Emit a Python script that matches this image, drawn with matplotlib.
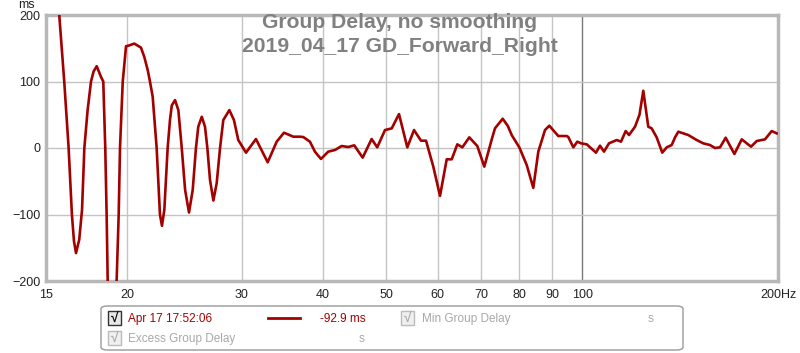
import numpy as np
import matplotlib
matplotlib.use("Agg")
import matplotlib.pyplot as plt
from matplotlib.patches import FancyBboxPatch, Rectangle

# Group delay (frequency in Hz, delay in ms)
freq = [15.2, 15.72, 16.00, 16.25, 16.44, 16.56, 16.68, 16.87, 17.04, 17.18,
        17.38, 17.59, 17.75, 17.95, 18.22, 18.37, 18.50, 18.59, 18.66, 18.95,
        19.26, 19.40, 19.49, 19.68, 19.91, 20.10, 20.50, 20.99, 21.24, 21.50,
        21.67, 21.88, 22.19, 22.45, 22.61, 22.80, 23.07, 23.26, 23.41, 23.68,
        23.96, 24.25, 24.54, 24.88, 25.21, 25.50, 25.71, 26.03, 26.33, 26.55,
        26.80, 27.12, 27.44, 27.77, 28.09, 28.70, 29.17, 29.62, 30.44, 31.53,
        32.87, 33.93, 34.82, 35.99, 36.84, 37.28, 38.17, 38.85, 39.69, 40.72,
        41.70, 42.70, 43.71, 44.65, 46.00, 47.48, 48.43, 49.78, 50.98, 52.31,
        53.87, 55.16, 56.55, 57.56, 59.06, 60.48, 61.93, 63.04, 64.30, 65.45,
        67.08, 69.01, 70.74, 72.63, 73.47, 75.50, 76.90, 77.94, 80.07, 82.19,
        84.13, 85.64, 87.69, 89.04, 91.92, 94.69, 95.23, 96.94, 98.31, 99.62,
        101.65, 105.03, 106.53, 108.04, 109.97, 113.02, 114.75, 116.67, 118.05, 120.58,
        122.5, 124.17, 126.38, 127.91, 130.19, 132.80, 134.89, 137.31, 138.93, 140.54,
        145.60, 150.0, 153.5, 157.2, 160.0, 162.9, 166.2, 171.4, 175.9, 181.8,
        185.5, 191.0, 195.6, 199.1]
delay = [320, 200, 100, 0, -100, -140, -158, -138, -93, 0,
         57, 100, 115, 123, 107, 100, 0, -100, -200, -420,
         -200, -100, 0, 100, 153, 154, 157, 151, 137, 117,
         100, 77, 0, -100, -117, -93, 0, 42, 64, 72,
         57, 0, -63, -97, -63, 0, 32, 47, 32, 0,
         -48, -79, -53, 0, 42, 57, 42, 12, -7, 13.5,
         -21.5, 9.5, 23, 17, 17, 16.5, 9.5, -5.5, -16.5, -5.5,
         -3, 3, 1.5, 4, -14.5, 13.5, 1, 27, 29.5, 51,
         1, 27, 11, 11, -28, -72, -17, -17, 5.5, 1,
         16, 3, -28, 13, 29.6, 44, 33, 19.5, 1, -25.5,
         -60, -5.5, 27, 33.5, 18, 18, 16.5, 1, 9.5, 7,
         5.5, -7, 3.5, -5.5, 7, 12, 9.5, 25.5, 19.5, 32,
         50, 86, 32, 29.5, 16, -7, 1, 4.5, 16, 24.5,
         19.5, 12, 7, 4.5, 0, 1, 15.5, -9, 13, 2,
         10.5, 13, 25.5, 22]

x_ticks = [15, 20, 30, 40, 50, 60, 70, 80, 90, 100, 200]
x_tick_labels = ["15", "20", "30", "40", "50", "60", "70", "80", "90", "100", "200Hz"]
y_ticks = [-200, -100, 0, 100, 200]

title_lines = ["Group Delay, no smoothing", "2019_04_17 GD_Forward_Right"]

plt.rcParams['font.family'] = ['Liberation Sans', 'DejaVu Sans']

fig = plt.figure(figsize=(8.0, 3.53), dpi=100)
ax = fig.add_axes([46 / 800, 1 - 281 / 353, (778 - 46) / 800, (281 - 15) / 353])

ax.set_xscale("log")
ax.set_xlim(15, 200)
ax.set_ylim(-200, 200)

ax.plot(freq, delay, color="#a30000", lw=1.9, solid_joinstyle="round", zorder=3)

# grid
for xt in x_ticks[1:-1]:
    col = "#7a7a7a" if xt == 100 else "#c4c4c4"
    ax.axvline(xt, color=col, lw=1.0, zorder=1)
for yt in y_ticks[1:-1]:
    ax.axhline(yt, color="#c4c4c4", lw=1.0, zorder=1)

ax.set_xticks(x_ticks)
ax.set_xticklabels(x_tick_labels)
ax.xaxis.set_minor_locator(matplotlib.ticker.NullLocator())
ax.set_yticks(y_ticks)
ax.tick_params(length=0, labelsize=9, pad=4, colors="#222222")
ax.tick_params(axis="x", pad=6)

for s in ax.spines.values():
    s.set_color("#b8b8b8")
    s.set_linewidth(2.5)

fig.text(26 / 800, 1 - 5 / 353, "ms", ha="center", va="center", fontsize=9, color="#222222")

fig.text(0.5, 1 - 23 / 353, title_lines[0], ha="center", va="center",
         fontsize=15.2, fontweight="bold", color="#808080")
fig.text(0.5, 1 - 47 / 353, title_lines[1], ha="center", va="center",
         fontsize=15.2, fontweight="bold", color="#808080")

# legend panel
box = FancyBboxPatch((101 / 800, 1 - 350 / 353), (683 - 101) / 800, (350 - 306) / 353,
                     boxstyle="round,pad=0,rounding_size=0.008",
                     transform=fig.transFigure, fc="white", ec="#999999", lw=1.0)
fig.patches.append(box)


def checkbox(x, y, active):
    ec = "#333333" if active else "#bbbbbb"
    fc = "#e8e8e8" if active else "#f0f0f0"
    r = Rectangle((x / 800, 1 - (y + 7) / 353), 13 / 800, 14 / 353, transform=fig.transFigure,
                  fc=fc, ec=ec, lw=1.0)
    fig.patches.append(r)
    fig.text((x + 6.5) / 800, 1 - y / 353, "\u221a", ha="center", va="center", fontsize=10,
             color="#111111" if active else "#b0b0b0", fontweight="bold")


checkbox(108, 318, True)
fig.text(128 / 800, 1 - 319 / 353, "Apr 17 17:52:06", ha="left", va="center", fontsize=8.5, color="#a30000")
fig.lines.append(plt.Line2D([268 / 800, 300 / 800], [1 - 318 / 353, 1 - 318 / 353],
                            transform=fig.transFigure, color="#a30000", lw=2))
fig.text(320 / 800, 1 - 319 / 353, "-92.9 ms", ha="left", va="center", fontsize=8.5, color="#a30000")
checkbox(401, 318, False)
fig.text(422 / 800, 1 - 319 / 353, "Min Group Delay", ha="left", va="center", fontsize=8.5, color="#a8a8a8")
fig.text(651 / 800, 1 - 319 / 353, "s", ha="center", va="center", fontsize=8.5, color="#a8a8a8")
checkbox(108, 338, False)
fig.text(128 / 800, 1 - 339 / 353, "Excess Group Delay", ha="left", va="center", fontsize=8.5, color="#a8a8a8")
fig.text(362 / 800, 1 - 339 / 353, "s", ha="center", va="center", fontsize=8.5, color="#a8a8a8")

fig.savefig("out.png", dpi=100, facecolor="white")
